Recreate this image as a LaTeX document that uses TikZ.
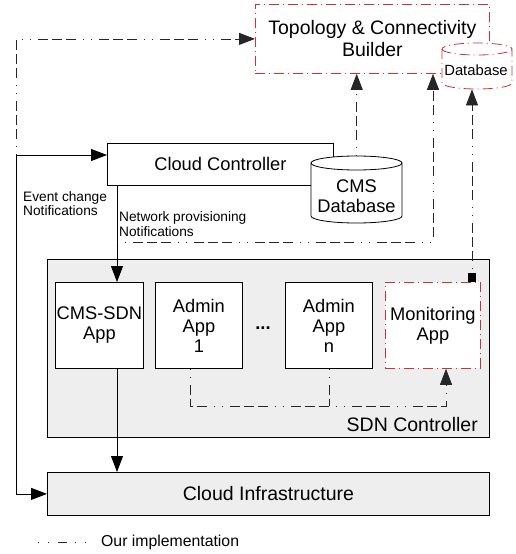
\documentclass[tikz,border=0pt]{standalone}
\usepackage{fontspec}
\setmainfont{Liberation Sans}
\usetikzlibrary{arrows.meta}
\definecolor{dred}{RGB}{204,51,51}
\definecolor{lgray}{RGB}{238,238,238}
\begin{document}
\begin{tikzpicture}[x=1pt,y=-1pt,
  box/.style={draw, line width=0.8pt, inner sep=0pt, anchor=north west, align=center, fill=white},
  dd/.style={line width=0.8pt, black!85, dash pattern=on 1pt off 7pt on 1pt off 7pt on 10pt off 4pt on 10pt off 4pt on 10pt off 7pt},
  ddleg/.style={line width=0.8pt, black!85, dash pattern=on 1pt off 9pt on 1pt off 9pt on 9pt off 8pt},
  rdd/.style={draw=dred, line width=0.8pt, dash pattern=on 10pt off 4pt on 1pt off 4pt},
  arr/.style={-{Triangle[length=16pt,width=12pt]}},
  solidl/.style={line width=0.8pt},
  big/.style={font=\fontsize{19.5}{22}\selectfont},
  mid/.style={font=\fontsize{18.3}{20}\selectfont},
  lbla/.style={font=\fontsize{13.7}{14}\selectfont, align=left, inner sep=0pt, anchor=north west},
  lblb/.style={font=\fontsize{13.7}{15}\selectfont, align=left, inner sep=0pt, anchor=north west},
]
\useasboundingbox (0,0) rectangle (516,554);

% SDN controller
\node[box, fill=lgray, minimum width=442pt, minimum height=178pt] (sdn) at (47,259) {};
\node[big, anchor=east, inner sep=0pt] (sdnlab) at (478,425) {SDN Controller};

% Apps
\node[box, mid, minimum width=88pt, minimum height=86pt] (cmssdn) at (55,282) {CMS-SDN\\App};
\node[box, mid, minimum width=87pt, minimum height=86pt] (adm1) at (155,282) {Admin\\App\\1};
\node[font=\fontsize{18.3}{20}\selectfont\bfseries, inner sep=0pt] (dots) at (263,328) {...};
\node[box, mid, minimum width=87pt, minimum height=86pt] (admn) at (285,282) {Admin\\App\\n};
\node[box, mid, rdd, minimum width=95pt, minimum height=86pt] (mon) at (385,282) {Monitoring\\App};

% Cloud infrastructure
\node[box, fill=lgray, big, minimum width=442pt, minimum height=43pt] (ci) at (47,472) {Cloud Infrastructure};

% Cloud controller
\node[box, mid, minimum width=226pt, minimum height=42pt] (cc) at (107,143) {Cloud Controller};

% CMS Database cylinder
\node[inner sep=0pt, minimum width=91pt, minimum height=67pt, anchor=north west] (cmsdb) at (311,156) {};
\draw[fill=white, line width=0.8pt] (311,163) -- (311,216) arc[start angle=180,end angle=360,x radius=45.5pt,y radius=7pt] -- (402,163) arc[start angle=0,end angle=180,x radius=45.5pt,y radius=7pt] -- cycle;
\draw[line width=0.8pt] (311,163) arc[start angle=180,end angle=360,x radius=45.5pt,y radius=7pt];
\node[mid, align=center, inner sep=0pt] (cmsdbl) at (356.5,196) {CMS\\Database};

% Topology builder
\node[box, rdd, big, minimum width=234pt, minimum height=69pt] (topo) at (255,4) {Topology \& Connectivity\\Builder};

% Database cylinder
\node[inner sep=0pt, minimum width=70pt, minimum height=46pt, anchor=north west] (db) at (442,43) {};
\path[fill=white] (442,49) -- (442,83) arc[start angle=180,end angle=360,x radius=35pt,y radius=6pt] -- (512,49) arc[start angle=0,end angle=180,x radius=35pt,y radius=6pt] -- cycle;
\draw[rdd] (442,49) -- (442,83) arc[start angle=180,end angle=360,x radius=35pt,y radius=6pt] -- (512,49) arc[start angle=0,end angle=180,x radius=35pt,y radius=6pt];
\draw[rdd] (442,49) arc[start angle=180,end angle=360,x radius=35pt,y radius=6pt];
\node[font=\fontsize{14.8}{16}\selectfont, inner sep=0pt] (dbl) at (476,70) {Database};

% Left bus
\coordinate (bus) at (16,155);
\draw[solidl, arr] (bus) -- (bus -| cc.west);
\draw[solidl, arr] (bus) |- (ci.west);
\draw[dd, arr] (bus) |- (topo.west);
\node[lbla] (evt) at (23,191) {Event change\\Notifications};

% Network provisioning
\coordinate (np) at (117,242);
\coordinate (npr) at (433,242);
\draw[solidl, arr] (np |- cc.south) -- (np |- cmssdn.north);
\draw[solidl, arr] (np |- cmssdn.south) -- (np |- ci.north);
\draw[dd, arr] (np) -- (npr) -- (npr |- topo.south);
\node[lblb] (nplab) at (119,211) {Network provisioning\\Notifications};

% CMS DB to topology
\draw[dd, arr] (cmsdb.north) -- (cmsdb.north |- topo.south);

% Monitoring to database
\coordinate (mq) at (472,277);
\draw[dd, arr] (mq) -- (mq |- db.south);
\fill (468,273) rectangle (476,282);

% Admin apps to monitoring
\coordinate (a1) at (190,406);
\coordinate (an) at (329,406);
\coordinate (mb) at (446,406);
\draw[dd, arr] (a1 |- adm1.south) -- (a1) -- (mb) -- (mb |- mon.south);
\draw[dd] (an |- admn.south) -- (an);

% Legend
\coordinate (lg1) at (38,542);
\coordinate (lg2) at (88,542);
\draw[ddleg] (lg1) -- (lg2);
\node[font=\fontsize{15.8}{18}\selectfont, anchor=west, inner sep=0pt] (leg) at (101,542) {Our implementation};
\end{tikzpicture}
\end{document}
